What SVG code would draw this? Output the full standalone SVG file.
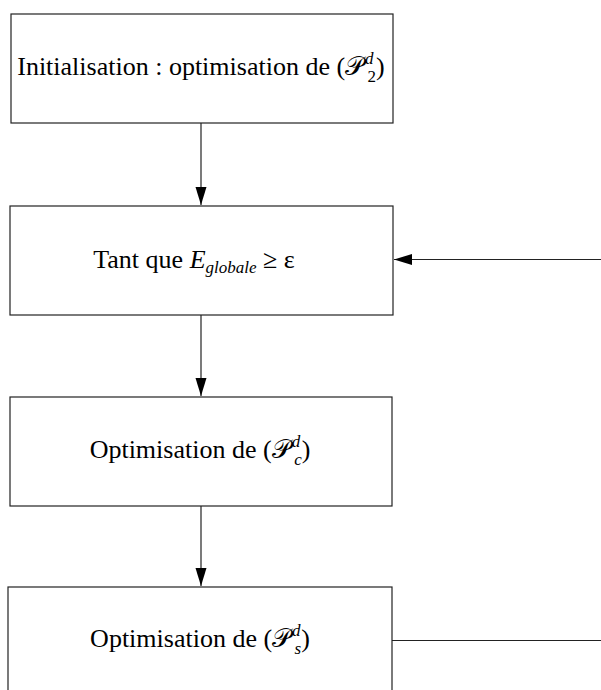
<svg xmlns="http://www.w3.org/2000/svg" width="601" height="690" viewBox="0 0 601 690">
<style>
.box{fill:#fff;stroke:#222;stroke-width:1.2}
.lbl{font-family:"Liberation Serif","Times New Roman",serif;font-size:26px;fill:#000;text-anchor:middle}
.it{font-style:italic}
.cal{font-family:"DejaVu Serif","DejaVu Sans","Noto Sans",serif}
.sc{font-size:17px}
.conn{stroke:#222;stroke-width:1.2;fill:none}
</style>
<defs>
<marker id="ah" markerUnits="userSpaceOnUse" markerWidth="19" markerHeight="12" refX="18" refY="5.5" orient="auto">
<path d="M0,0 L18,5.5 L0,11 z" fill="#000"/>
</marker>
</defs>
<rect width="601" height="690" fill="#fff"/>
<g id="connectors">
<line class="conn" x1="201" y1="123" x2="201" y2="205" marker-end="url(#ah)"/>
<line class="conn" x1="201" y1="315" x2="201" y2="396" marker-end="url(#ah)"/>
<line class="conn" x1="201" y1="506" x2="201" y2="586" marker-end="url(#ah)"/>
<line class="conn" x1="601" y1="259.5" x2="394" y2="259.5" marker-end="url(#ah)"/>
<line class="conn" x1="392" y1="640.5" x2="601" y2="640.5"/>
</g>
<g id="n1">
<rect class="box" x="11" y="14" width="382" height="109"/>
<text class="lbl" x="201" y="75">Initialisation : optimisation de (<tspan class="cal">𝒫</tspan><tspan class="sc it" dx="1" dy="-11">d</tspan><tspan class="sc" dx="-6" dy="18">2</tspan><tspan dy="-7">)</tspan></text>
</g>
<g id="n2">
<rect class="box" x="10" y="206" width="383" height="109"/>
<text class="lbl" x="194" y="268">Tant que <tspan class="it">E</tspan><tspan class="sc it" dy="5">globale</tspan><tspan dy="-5"> ≥ ε</tspan></text>
</g>
<g id="n3">
<rect class="box" x="10" y="397" width="382" height="109"/>
<text class="lbl" x="200" y="458">Optimisation de (<tspan class="cal">𝒫</tspan><tspan class="sc it" dx="1" dy="-11">d</tspan><tspan class="sc it" dx="-6" dy="18">c</tspan><tspan dy="-7">)</tspan></text>
</g>
<g id="n4">
<rect class="box" x="8" y="587" width="384" height="120"/>
<text class="lbl" x="200" y="647">Optimisation de (<tspan class="cal">𝒫</tspan><tspan class="sc it" dx="1" dy="-11">d</tspan><tspan class="sc it" dx="-6" dy="18">s</tspan><tspan dy="-7">)</tspan></text>
</g>
</svg>
